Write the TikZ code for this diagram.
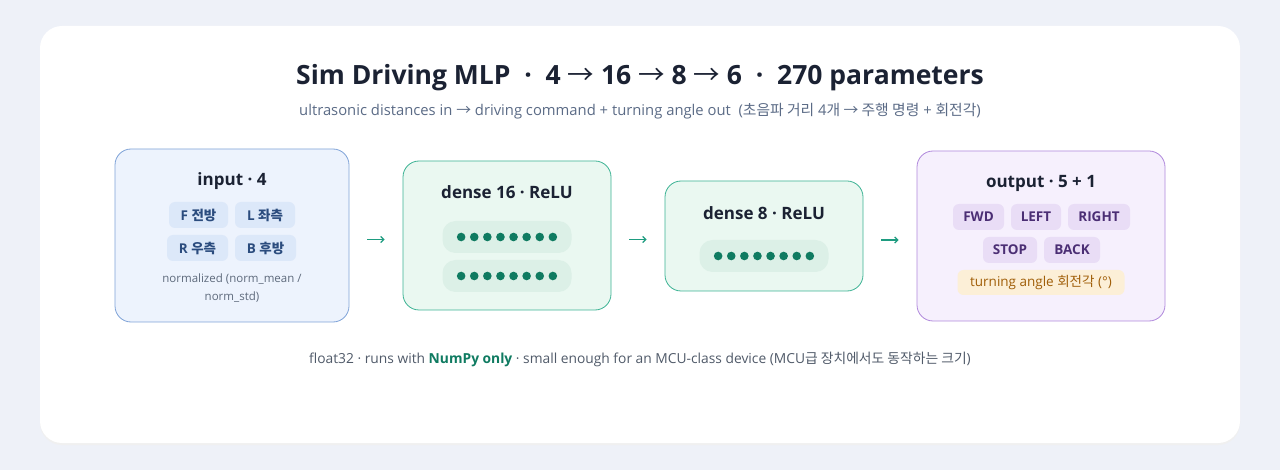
\documentclass[tikz,border=0pt]{standalone}
\usepackage{fontspec}
\setmainfont{Open Sans}
\newfontfamily\kr{Noto Sans CJK KR}
\usetikzlibrary{positioning,arrows.meta}
\definecolor{pagebg}{HTML}{EEF1F8}
\definecolor{ink}{HTML}{1B2233}
\definecolor{subink}{HTML}{5B6B86}
\definecolor{noteink}{HTML}{5E6A7C}
\definecolor{infill}{HTML}{EDF3FD}
\definecolor{indraw}{HTML}{7FA3D8}
\definecolor{inchip}{HTML}{DCE8F9}
\definecolor{inchipink}{HTML}{2B4C7E}
\definecolor{densefill}{HTML}{EAF8F1}
\definecolor{densedraw}{HTML}{3DB394}
\definecolor{pillfill}{HTML}{DCF0E7}
\definecolor{dotgreen}{HTML}{0F7B61}
\definecolor{outfill}{HTML}{F6F0FD}
\definecolor{outdraw}{HTML}{B088DC}
\definecolor{outchip}{HTML}{E9DDF6}
\definecolor{outchipink}{HTML}{4B2E74}
\definecolor{anglefill}{HTML}{FCEFD7}
\definecolor{angleink}{HTML}{A05E08}
\definecolor{flowteal}{HTML}{1E9C80}
\tikzset
{
	layer/.style   = {rectangle, rounded corners=16pt, line width=0.8pt, inner sep=0pt},
	inbox/.style   = {layer, draw=indraw, fill=infill},
	densebox/.style = {layer, draw=densedraw, fill=densefill},
	outbox/.style  = {layer, draw=outdraw, fill=outfill},
	head/.style    = {font=\fontsize{17}{20}\selectfont\bfseries, text=ink},
	chip/.style    = {rectangle, rounded corners=6pt, inner sep=0pt, minimum height=26pt, font=\fontsize{13.5}{15}\selectfont\bfseries},
	inchipnode/.style  = {chip, fill=inchip, text=inchipink},
	outchipnode/.style = {chip, fill=outchip, text=outchipink},
	pill/.style    = {rectangle, rounded corners=13pt, fill=pillfill, minimum width=129pt, minimum height=32pt, inner sep=0pt},
	neuron/.style  = {circle, fill=dotgreen, inner sep=0pt, minimum size=8.6pt},
	flow/.style    = {-{Straight Barb[length=3pt,width=6pt]}, draw=flowteal, line width=1.3pt, shorten >=18pt, shorten <=18pt}
}
\begin{document}
\begin{tikzpicture}[x=1pt, y=-1pt]
% page and card
\fill[pagebg] (0,0) rectangle (1280,470);
\fill[black!6, rounded corners=22pt] (40,28) rectangle (1240,445);
\node[rectangle, rounded corners=22pt, fill=white, minimum width=1200pt, minimum height=417pt, inner sep=0pt] (card) at (640,234.5) {};
\useasboundingbox (0,0) rectangle (1280,470);

% heading
\node[font=\fontsize{26.5}{30}\selectfont\bfseries, text=ink] (title) at (640,78)
  {Sim Driving MLP \ · \ 4 {\kr\mdseries →} 16 {\kr\mdseries →} 8 {\kr\mdseries →} 6 \ · \ 270 parameters};
\node[font=\fontsize{14.8}{17}\selectfont, text=subink] (subtitle) at (640,111.5)
  {ultrasonic distances in {\kr →} driving command + turning angle out \ ({\kr 초음파 거리} 4{\kr 개 → 주행 명령} + {\kr 회전각})};

% layers
\node[inbox, minimum width=234pt, minimum height=173pt] (in) at (232,235.5) {};
\node[densebox, minimum width=208pt, minimum height=149pt] (d16) at (507,235.5) {};
\node[densebox, minimum width=198pt, minimum height=110pt] (d8) at (764,236) {};
\node[outbox, minimum width=248pt, minimum height=170pt] (out) at (1041,236) {};

% input
\node[head] (inT) at ([yshift=-32.5pt]in.north) {input · 4};
\node[inchipnode, minimum width=59pt] (f) at (198.5,215) {F {\kr 전방}};
\node[inchipnode, minimum width=60pt] (l) at (265,215) {L {\kr 좌측}};
\node[inchipnode, minimum width=61pt] (r) at (197.5,248) {R {\kr 우측}};
\node[inchipnode, minimum width=61pt] (b) at (265.5,248) {B {\kr 후방}};
\node[font=\fontsize{11.5}{18}\selectfont, text=noteink, align=center] (norm) at (232,288)
  {normalized (norm\_mean /\\norm\_std)};

% dense 16
\node[head] (d16T) at ([yshift=-31.5pt]d16.north) {dense 16 · ReLU};
\node[pill] (row1) at (507,237) {};
\node[pill] (row2) at (507,276) {};
\foreach \r in {row1,row2}
  \foreach \i in {0,...,7}
    \node[neuron] (\r n\i) at ([xshift=-45.85pt+\i*13.1pt]\r.center) {};

% dense 8
\node[head] (d8T) at ([yshift=-32.5pt]d8.north) {dense 8 · ReLU};
\node[pill] (row3) at (764,256) {};
\foreach \i in {0,...,7}
  \node[neuron] (row3n\i) at ([xshift=-45.85pt+\i*13.1pt]row3.center) {};

% output
\node[head] (outT) at ([yshift=-32.5pt]out.north) {output · 5 + 1};
\node[outchipnode, minimum width=51pt] (fwd) at (978.5,217) {FWD};
\node[outchipnode, minimum width=50pt] (left) at (1036,217) {LEFT};
\node[outchipnode, minimum width=62pt] (right) at (1099,217) {RIGHT};
\node[outchipnode, minimum width=54pt] (stop) at (1010,250) {STOP};
\node[outchipnode, minimum width=56pt] (back) at (1072,250) {BACK};
\node[chip, fill=anglefill, text=angleink, minimum width=167pt, minimum height=25pt, font=\fontsize{13.5}{15}\selectfont] (angle) at (1041,282.5)
  {turning angle {\kr 회전각} (°)};

% connectors
\draw[flow] ([yshift=-4pt]in.east) -- ([yshift=-4pt]in.east -| d16.west);
\draw[flow] ([yshift=-4pt]d16.east) -- ([yshift=-4pt]d16.east -| d8.west);
\draw[flow] ([yshift=-4pt]d8.east) -- ([yshift=-4pt]d8.east -| out.west);

% footer
\node[font=\fontsize{13.8}{16}\selectfont, text=noteink!85!black] (foot) at (640,359.5)
  {float32 · runs with \textcolor{dotgreen}{\bfseries NumPy only} · small enough for an MCU-class device (MCU{\kr 급 장치에서도 동작하는 크기})};
\end{tikzpicture}
\end{document}
